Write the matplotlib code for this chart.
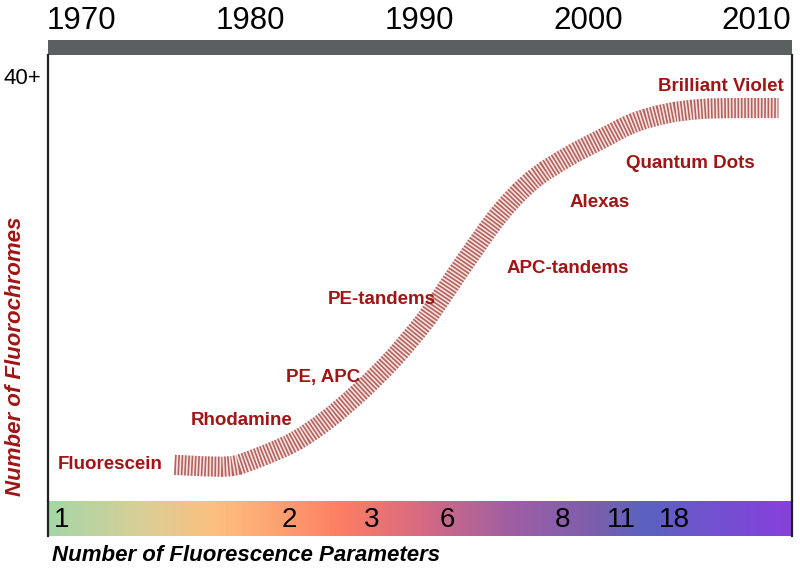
import matplotlib
matplotlib.use('Agg')

import matplotlib.pyplot as plt
import numpy as np
from matplotlib.colors import LinearSegmentedColormap
from matplotlib.path import Path
from matplotlib.patches import PathPatch

plt.rcParams['font.family'] = ['Liberation Sans', 'DejaVu Sans']
plt.rcParams['lines.scale_dashes'] = False

# S-curve of fluorochrome count over time
curve_year = [1975.5, 1978.6, 1980.15, 1982.5, 1984.5, 1986.5, 1988.4, 1989.9, 1990.8,
              1992.8, 1994.8, 1996.7, 1998.8, 2000.7, 2002.7, 2004.7, 2006.6, 2008.6, 2011.3]
curve_count = [3.4, 3.25, 3.9, 5.5, 7.6, 10.3, 13.3, 16.1, 18.0,
               22.7, 27.1, 30.2, 32.4, 34.0, 35.6, 36.5, 36.9, 37.0, 37.0]

dye_names = ['Fluorescein', 'Rhodamine', 'PE, APC', 'PE-tandems', 'APC-tandems',
             'Alexas', 'Quantum Dots', 'Brilliant Violet']
dye_year = [1968.6, 1979.5, 1984.3, 1987.8, 1998.8, 2000.7, 2006.1, 2007.9]
dye_y = [3.4, 7.6, 11.6, 19.0, 21.9, 28.1, 31.8, 39.0]

years = [1970, 1980, 1990, 2000, 2010]
param_labels = ['1', '2', '3', '6', '8', '11', '18']
param_year = [1968.8, 1982.3, 1987.2, 1991.65, 1998.5, 2002.0, 2005.1]

xmin, xmax = 1968, 2012.1
dark_red = '#a01515'


def smooth_path(xs, ys):
    # cubic bezier segments through the points (catmull-rom style handles)
    p = np.column_stack([xs, ys])
    verts = [p[0]]
    codes = [Path.MOVETO]
    n = len(p)
    for i in range(n - 1):
        p0 = p[max(i - 1, 0)]
        p1 = p[i]
        p2 = p[i + 1]
        p3 = p[min(i + 2, n - 1)]
        c1 = p1 + (p2 - p0) / 6.0
        c2 = p2 - (p3 - p1) / 6.0
        verts += [c1, c2, p2]
        codes += [Path.CURVE4] * 3
    return Path(verts, codes)


fig = plt.figure(figsize=(8, 5.74), dpi=100)
ax_top = fig.add_axes([0.06, 0.9042, 0.93, 0.0261])
ax = fig.add_axes([0.06, 0.1272, 0.93, 0.777])
ax_bot = fig.add_axes([0.06, 0.0662, 0.93, 0.061])

# top year bar
ax_top.set_facecolor('#5b5f60')
ax_top.set_xlim(xmin, xmax)
ax_top.set_ylim(0, 1)
ax_top.set_yticks([])
ax_top.set_xticks(years)
ax_top.set_xticklabels([str(y) for y in years], fontsize=22.5)
ax_top.xaxis.tick_top()
ax_top.tick_params(axis='x', length=0, pad=3)
for s in ax_top.spines.values():
    s.set_visible(False)

# main area
ax.set_xlim(xmin, xmax)
ax.set_ylim(0, 42)
ax.set_xticks([])
ax.set_yticks([40])
ax.set_yticklabels(['40+'], fontsize=16)
ax.tick_params(axis='y', length=0, pad=5)
for side in ['top', 'bottom']:
    ax.spines[side].set_visible(False)
for side in ['left', 'right']:
    ax.spines[side].set_color('#222222')
    ax.spines[side].set_linewidth(1.6)

path = smooth_path(curve_year, curve_count)
ax.add_patch(PathPatch(path, fill=False, edgecolor='#f5e3e1', linewidth=14.5,
                       capstyle='butt', joinstyle='round', zorder=2))
ax.add_patch(PathPatch(path, fill=False, edgecolor='#b4625d', linewidth=14.5,
                       linestyle=(0, (1.2, 1.2)), capstyle='butt', joinstyle='round',
                       zorder=3))

for name, xv, yv in zip(dye_names, dye_year, dye_y):
    ha = 'left' if name == 'Fluorescein' else 'center'
    ax.text(xv, yv, name, color=dark_red, fontsize=13.5, fontweight='bold',
            ha=ha, va='center')

fig.text(16 / 800, 1 - 356 / 574, 'Number of Fluorochromes', color=dark_red, fontsize=16,
         fontweight='bold', fontstyle='italic', rotation=90, ha='center', va='center')

# bottom gradient bar
cmap = LinearSegmentedColormap.from_list('params', [
    (0.0, '#a5d6a7'), (0.124, '#d9cf98'), (0.224, '#fdbf7f'), (0.285, '#fdaa75'),
    (0.39, '#fd7f63'), (0.5, '#d86a82'), (0.634, '#9a5ea6'), (0.742, '#7a5fae'),
    (0.802, '#5a62c0'), (0.876, '#6d55cc'), (1.0, '#8740dc')])
grad = np.linspace(0, 1, 512).reshape(1, -1)
ax_bot.imshow(grad, cmap=cmap, aspect='auto', extent=[xmin, xmax, 0, 1])
ax_bot.set_xlim(xmin, xmax)
ax_bot.set_ylim(0, 1)
ax_bot.set_xticks([])
ax_bot.set_yticks([])
for side in ['top', 'bottom']:
    ax_bot.spines[side].set_visible(False)
for side in ['left', 'right']:
    ax_bot.spines[side].set_color('#222222')
    ax_bot.spines[side].set_linewidth(1.6)
for lab, xv in zip(param_labels, param_year):
    ax_bot.text(xv, 0.45, lab, fontsize=20, ha='center', va='center')

fig.text(0.065, 0.033, 'Number of Fluorescence Parameters', fontsize=16,
         fontweight='bold', fontstyle='italic', ha='left', va='center')

plt.savefig('out.png', dpi=100)
